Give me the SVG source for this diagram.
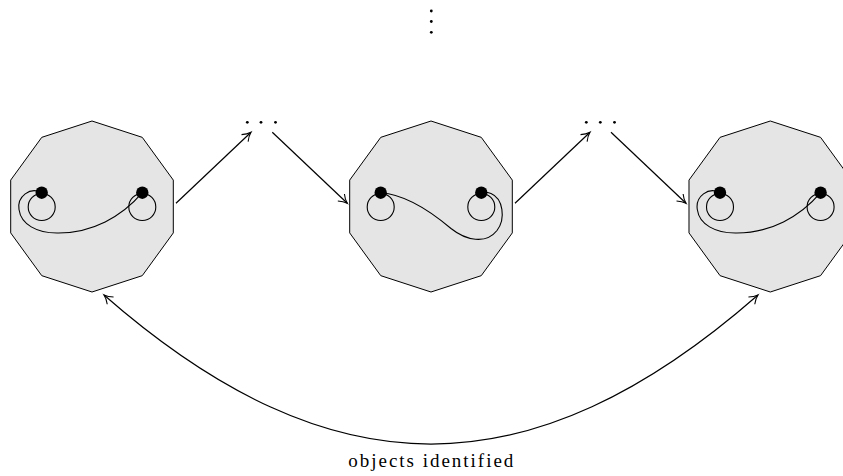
<svg xmlns="http://www.w3.org/2000/svg" width="843" height="476" viewBox="0 0 843 476">
<style>
.deca{fill:#e5e5e5;stroke:#000;stroke-width:1}
.ring{fill:none;stroke:#000;stroke-width:1.1}
.dot{fill:#000}
.curve{fill:none;stroke:#000;stroke-width:1.1}
.conn{fill:none;stroke:#000;stroke-width:1.2;marker-end:url(#arr)}
.label{font-family:"Liberation Serif","DejaVu Serif",serif;font-size:19px;fill:#000}
</style>
<defs>
<marker id="arr" markerUnits="userSpaceOnUse" markerWidth="14" markerHeight="14" viewBox="-11 -7 14 14" refX="0" refY="0" orient="auto-start-reverse" overflow="visible">
<path d="M -8.5 -4.8 C -5.5 -2.2, -2.2 -0.6, 0 0 C -2.2 0.6, -5.5 2.2, -8.5 4.8" fill="none" stroke="#000" stroke-width="1.1"/>
</marker>
<polygon id="decagon" points="0,-85.5 50.25,-69.17 81.31,-26.42 81.31,26.42 50.25,69.17 0,85.5 -50.25,69.17 -81.31,26.42 -81.31,-26.42 -50.25,-69.17"/>
</defs>
<g id="vdots">
<circle class="dot" cx="431.3" cy="11" r="1.4"/>
<circle class="dot" cx="431.3" cy="21.5" r="1.4"/>
<circle class="dot" cx="431.3" cy="32.3" r="1.4"/>
</g>
<g id="hdots1">
<circle class="dot" cx="247.3" cy="122.3" r="1.4"/>
<circle class="dot" cx="261" cy="122.3" r="1.4"/>
<circle class="dot" cx="275.5" cy="122.3" r="1.4"/>
</g>
<g id="hdots2">
<circle class="dot" cx="586.3" cy="122.3" r="1.4"/>
<circle class="dot" cx="600.3" cy="122.3" r="1.4"/>
<circle class="dot" cx="614.5" cy="122.3" r="1.4"/>
</g>
<g id="node1" transform="translate(92,206.5)">
<use href="#decagon" class="deca"/>
<circle class="ring" cx="-50.3" cy="0.5" r="13.5"/>
<circle class="ring" cx="50.3" cy="0.5" r="13.5"/>
<path class="curve" d="M -50.3 -13.8 C -62 -20, -75 -10, -73 3 C -71 18, -55 26.5, -35 26.5 C 0 27, 30 10, 50.3 -13.8"/>
<circle class="dot" cx="-50.3" cy="-13.8" r="6.2"/>
<circle class="dot" cx="50.3" cy="-13.8" r="6.2"/>
</g>
<g id="node2" transform="translate(431,206.5)">
<use href="#decagon" class="deca"/>
<circle class="ring" cx="-50.3" cy="0.5" r="13.5"/>
<circle class="ring" cx="50.3" cy="0.5" r="13.5"/>
<path class="curve" d="M -50.3 -13.8 C -25 -12, 0 5, 20 22 C 35 34, 55 38, 66 24 C 75 12, 72 -8, 60 -13 C 56 -14.5, 53 -14.5, 50.3 -13.8"/>
<circle class="dot" cx="-50.3" cy="-13.8" r="6.2"/>
<circle class="dot" cx="50.3" cy="-13.8" r="6.2"/>
</g>
<g id="node3" transform="translate(770.3,206.5)">
<use href="#decagon" class="deca"/>
<circle class="ring" cx="-50.3" cy="0.5" r="13.5"/>
<circle class="ring" cx="50.3" cy="0.5" r="13.5"/>
<path class="curve" d="M -50.3 -13.8 C -62 -20, -75 -10, -73 3 C -71 18, -55 26.5, -35 26.5 C 0 27, 30 10, 50.3 -13.8"/>
<circle class="dot" cx="-50.3" cy="-13.8" r="6.2"/>
<circle class="dot" cx="50.3" cy="-13.8" r="6.2"/>
</g>
<g id="connectors">
<line class="conn" x1="176" y1="203.3" x2="251" y2="132.3"/>
<line class="conn" x1="272.3" y1="132.3" x2="347.3" y2="203.3"/>
<line class="conn" x1="515" y1="203.3" x2="590" y2="132.3"/>
<line class="conn" x1="611" y1="132.3" x2="686" y2="203.3"/>
<path class="conn" style="marker-start:url(#arr)" d="M 104 295 C 331 493.7, 531 493.7, 758 295"/>
</g>
<text class="label" x="348.3" y="467" textLength="165" lengthAdjust="spacing">objects identified</text>
</svg>
